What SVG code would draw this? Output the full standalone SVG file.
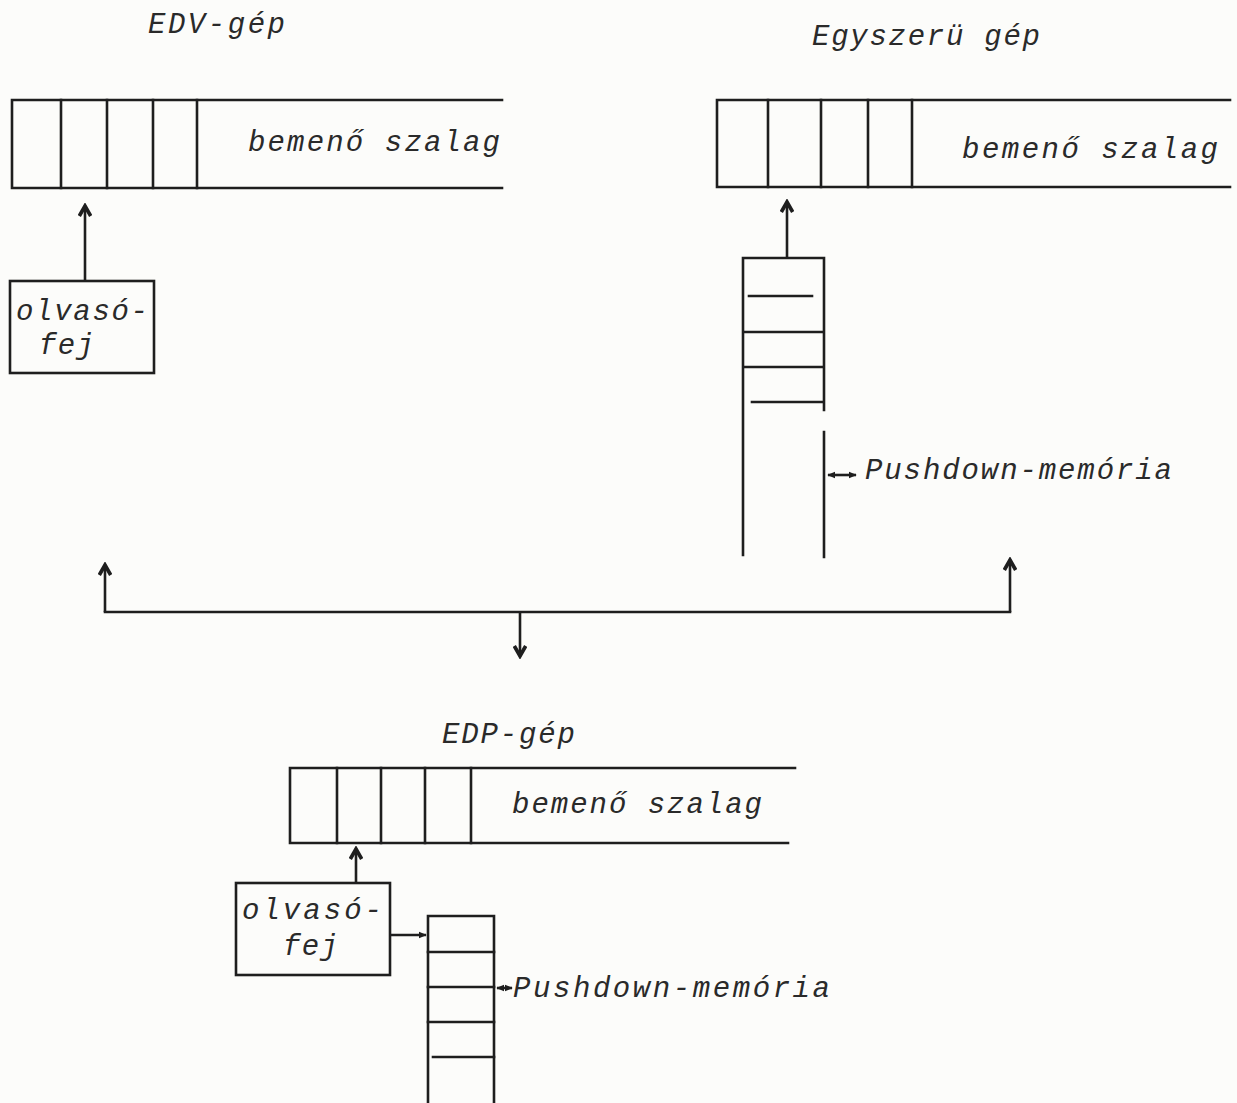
<svg xmlns="http://www.w3.org/2000/svg" width="1237" height="1103" viewBox="0 0 1237 1103">
<style>
.bg{fill:#fcfcfa}
.ln{stroke:#1e1e1e;stroke-width:2.6;fill:none;stroke-linecap:square}
.t{font-family:"Liberation Mono","DejaVu Sans Mono",monospace;font-style:italic;font-size:29px;fill:#2a2a2a}
.ar{stroke:#1e1e1e;stroke-width:2.6;fill:none}
</style>
<defs>
<marker id="ah" viewBox="0 0 10 10" refX="8" refY="5" markerWidth="5.5" markerHeight="5.5" orient="auto-start-reverse" markerUnits="strokeWidth">
<path d="M1,1 L8,5 L1,9" fill="none" stroke="#1e1e1e" stroke-width="2.6"/>
</marker>
<marker id="sh" viewBox="0 0 10 10" refX="9" refY="5" markerWidth="3.2" markerHeight="3.2" orient="auto-start-reverse" markerUnits="strokeWidth">
<path d="M0,1 L10,5 L0,9 Z" fill="#1e1e1e"/>
</marker>
</defs>
<rect class="bg" x="0" y="0" width="1237" height="1103"/>

<g id="edv">
<text class="t" x="148" y="33" textLength="137" lengthAdjust="spacing">EDV-gép</text>
<g id="tape-edv">
<path class="ln" d="M502,100 H12 V188 H502"/>
<path class="ln" d="M61,100 V188 M107,100 V188 M153,100 V188 M197,100 V188"/>
<text class="t" x="248" y="151" textLength="252" lengthAdjust="spacing">bemenő szalag</text>
</g>
<g id="head-edv">
<rect class="ln" x="10" y="281" width="144" height="92"/>
<text class="t" x="16" y="320" textLength="132" lengthAdjust="spacing">olvasó-</text>
<text class="t" x="39" y="354" textLength="55" lengthAdjust="spacing">fej</text>
</g>
</g>

<g id="simple">
<text class="t" x="812" y="45" textLength="228" lengthAdjust="spacing">Egyszerü gép</text>
<g id="tape-simple">
<path class="ln" d="M1230,100 H717 V187 H1230"/>
<path class="ln" d="M768,100 V187 M821,100 V187 M868,100 V187 M912,100 V187"/>
<text class="t" x="962" y="158" textLength="256" lengthAdjust="spacing">bemenő szalag</text>
</g>
<g id="stack-simple">
<path class="ln" d="M743,555 V258 H824 V410 M824,432 V557"/>
<path class="ln" d="M749,296 H812 M744,332 H823 M744,367 H823 M752,402 H823"/>
<text class="t" x="865" y="479" textLength="307" lengthAdjust="spacing">Pushdown-memória</text>
</g>
</g>

<g id="edp">
<text class="t" x="442" y="743" textLength="133" lengthAdjust="spacing">EDP-gép</text>
<g id="tape-edp">
<path class="ln" d="M795,768 H290 V843 H788"/>
<path class="ln" d="M337,768 V843 M381,768 V843 M425,768 V843 M471,768 V843"/>
<text class="t" x="512" y="813" textLength="250" lengthAdjust="spacing">bemenő szalag</text>
</g>
<g id="head-edp">
<rect class="ln" x="236" y="883" width="154" height="92"/>
<text class="t" x="242" y="919" textLength="140" lengthAdjust="spacing">olvasó-</text>
<text class="t" x="283" y="955" textLength="55" lengthAdjust="spacing">fej</text>
</g>
<g id="stack-edp">
<path class="ln" d="M428,1105 V916 H494 V1105"/>
<path class="ln" d="M428,952 H494 M428,987 H494 M428,1022 H494 M433,1057 H494"/>
<text class="t" x="513" y="997" textLength="317" lengthAdjust="spacing">Pushdown-memória</text>
</g>
</g>

<g id="connectors">
<path class="ar" d="M85,281 V206" marker-end="url(#ah)"/>
<path class="ar" d="M787,258 V202" marker-end="url(#ah)"/>
<path class="ar" d="M828,475 H856" marker-start="url(#sh)" marker-end="url(#sh)"/>
<path class="ln" d="M105,612 H1010"/>
<path class="ar" d="M105,612 V565" marker-end="url(#ah)"/>
<path class="ar" d="M1010,612 V560" marker-end="url(#ah)"/>
<path class="ar" d="M520,612 V656" marker-end="url(#ah)"/>
<path class="ar" d="M356,883 V849" marker-end="url(#ah)"/>
<path class="ar" d="M391,935 H426" marker-end="url(#sh)"/>
<path class="ar" d="M497,988 H512" marker-start="url(#sh)" marker-end="url(#sh)"/>
</g>
</svg>
